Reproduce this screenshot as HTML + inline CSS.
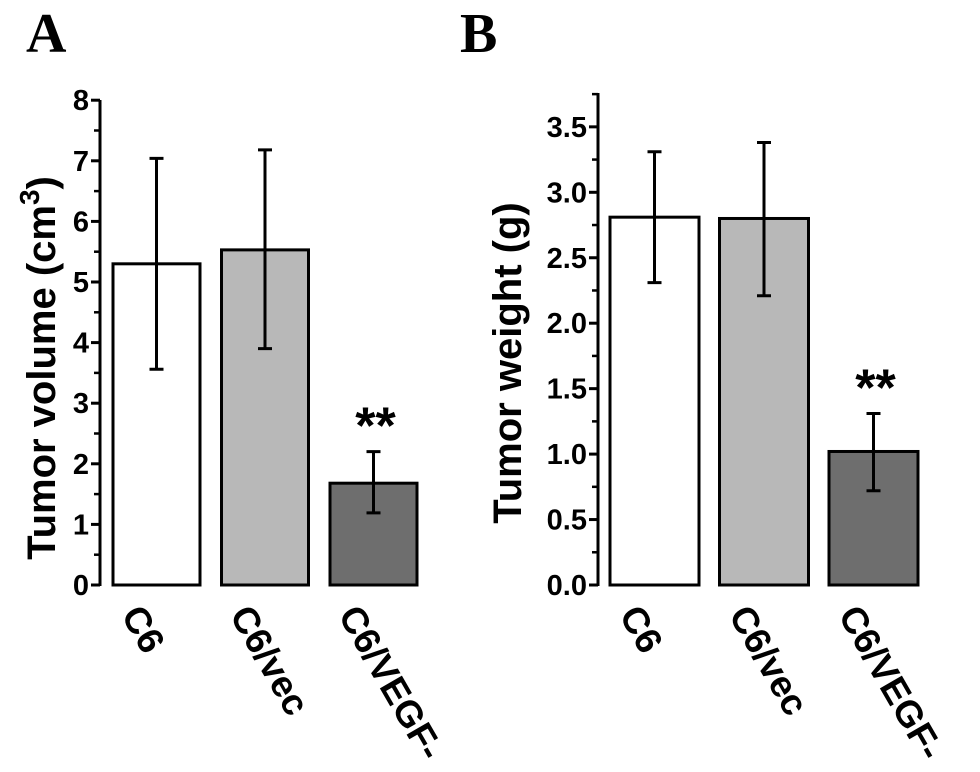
<!DOCTYPE html>
<html><head><meta charset="utf-8"><style>
html,body{margin:0;padding:0;background:#fff;}
svg{display:block;font-family:"Liberation Sans",Arial,sans-serif;}
</style></head><body>
<svg id="fig" width="980" height="772" viewBox="0 0 980 772">
<text x="26" y="52" font-family="Liberation Serif,serif" font-weight="bold" font-size="56">A</text>
<text x="460" y="52" font-family="Liberation Serif,serif" font-weight="bold" font-size="56">B</text>
<g id="pa"></g>
<g id="pb"></g>
</svg>
<script>
const categories = ["C6", "C6/vec", "C6/VEGF-"];
const fills = ["#ffffff", "#b8b8b8", "#6e6e6e"];
const volumeMeans = [5.3, 5.53, 1.68];
const volumeHigh = [7.04, 7.18, 2.2];
const volumeLow = [3.56, 3.9, 1.19];
const volumeTicks = [0, 1, 2, 3, 4, 5, 6, 7, 8];
const volumeTickLabels = ["0","1","2","3","4","5","6","7","8"];
const weightMeans = [2.81, 2.8, 1.02];
const weightHigh = [3.31, 3.38, 1.31];
const weightLow = [2.31, 2.21, 0.72];
const weightTicks = [0, 0.5, 1, 1.5, 2, 2.5, 3, 3.5];
const weightTickLabels = ["0.0","0.5","1.0","1.5","2.0","2.5","3.0","3.5"];
const sigFlags = ["", "", "**"];

const NS = "http://www.w3.org/2000/svg";
function mk(parent, tag, attrs, txt){
  const e = document.createElementNS(NS, tag);
  for (const k in attrs) e.setAttribute(k, attrs[k]);
  if (txt !== undefined) e.textContent = txt;
  parent.appendChild(e); return e;
}
function panel(g, cfg){
  const y = v => cfg.y0 - (v - 0) * cfg.pxPerUnit;
  const ax = mk(g, "line", {x1:cfg.axX, y1:cfg.axTop, x2:cfg.axX, y2:cfg.y0+1, stroke:"#000","stroke-width":3});
  
  
  cfg.ticks.forEach((t,i)=>{
    const tk = mk(g, "line", {x1:cfg.axX-9, y1:y(t), x2:cfg.axX, y2:y(t), stroke:"#000","stroke-width":3});
    
    
    const lb = mk(g, "text", {x:cfg.axX-11, y:y(t)+10, "text-anchor":"end","font-size":29,"font-weight":"bold"}, cfg.tickLabels[i]);
    
    
    if (i < cfg.ticks.length-1 || cfg.extraMinor){
      const m = (cfg.ticks[1]-cfg.ticks[0])/2 + t;
      const mn = mk(g, "line", {x1:cfg.axX-6, y1:y(m), x2:cfg.axX, y2:y(m), stroke:"#000","stroke-width":2.5});
      
      
    }
  });
  const tt = mk(g, "text", {x:0,y:0,"font-size":40,"font-weight":"bold","text-anchor":"middle",
     transform:`translate(${cfg.titleX},${cfg.titleY}) rotate(-90)`});
  
  
  tt.textContent = cfg.title;
  if (cfg.sup){ mk(tt, "tspan", {dy:-16,"font-size":28}, cfg.sup); mk(tt,"tspan",{dy:16},")"); }
  categories.forEach((c,i)=>{
    const x0 = cfg.barX0 + i*cfg.step, w = cfg.barW, cx = x0 + w/2;
    const b = mk(g, "rect", {x:x0, y:y(cfg.means[i]), width:w, height:cfg.y0 - y(cfg.means[i]), fill:fills[i], stroke:"#000","stroke-width":3});
    
    
    const eb = mk(g, "path", {d:`M${cx},${y(cfg.high[i])}V${y(cfg.low[i])}M${cx-7},${y(cfg.high[i])}H${cx+7}M${cx-7},${y(cfg.low[i])}H${cx+7}`, stroke:"#000","stroke-width":3, fill:"none"});
    
    
    if (sigFlags[i]){
      const st = mk(g, "text", {x:cx+2, y:y(cfg.high[i])-8, "text-anchor":"middle","font-size":52,"font-weight":"bold","letter-spacing":"0"}, sigFlags[i]);
      
      
    }
    const xl = mk(g, "text", {x:0,y:0,"font-size":37,"font-weight":"bold",transform:`translate(${cx-36},${cfg.y0+30}) rotate(60)`}, c);
    
    
  });
}
panel(document.getElementById("pa"), {axX:100, y0:585, pxPerUnit:60.6, axTop:100, ticks:volumeTicks, tickLabels:volumeTickLabels,
  means:volumeMeans, high:volumeHigh, low:volumeLow, barX0:113, barW:87, step:108.5, title:"Tumor volume (cm", sup:"3", titleX:55, titleY:368});
panel(document.getElementById("pb"), {axX:598, y0:585, pxPerUnit:130.9, axTop:93, ticks:weightTicks, tickLabels:weightTickLabels, extraMinor:true,
  means:weightMeans, high:weightHigh, low:weightLow, barX0:610, barW:89, step:109.5, title:"Tumor weight (g)", titleX:521, titleY:363});
</script>
</body></html>
